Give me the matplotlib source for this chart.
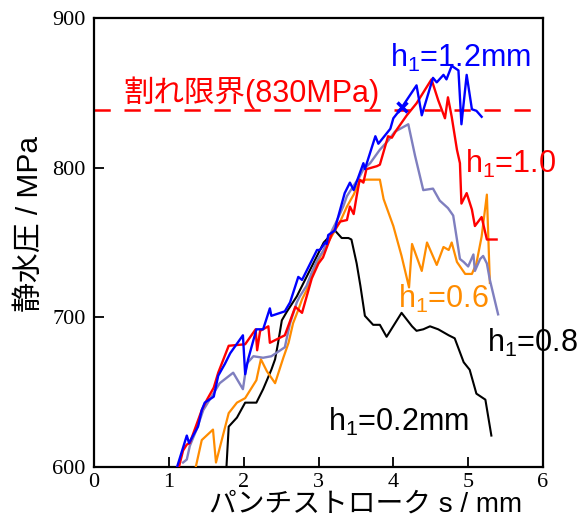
import matplotlib
matplotlib.use("Agg")
import matplotlib.pyplot as plt

# ---- data ----
x_02 = [1.77,1.80,1.91,2.02,2.17,2.26,2.37,2.42,2.46,2.51,2.58,2.71,2.84,2.98,3.07,3.22,3.31,3.40,3.44,3.51,3.56,3.62,3.73,3.82,3.91,4.11,4.25,4.31,4.40,4.49,4.60,4.74,4.82,4.94,5.02,5.11,5.23,5.31]
y_02 = [600,627,633,643,643,652,665,672,683,698,704,714,727,741,750,758,753,753,752,736,721,701,695,695,687,703,694,691,692,694,692,688,686,670,665,649,645,621]

x_12 = [1.11,1.24,1.27,1.39,1.44,1.48,1.60,1.66,1.75,1.82,1.99,2.02,2.06,2.17,2.26,2.35,2.37,2.55,2.62,2.73,2.78,2.89,2.98,3.02,3.09,3.11,3.13,3.22,3.24,3.35,3.42,3.47,3.60,3.62,3.76,3.80,3.96,4.00,4.11,4.31,4.38,4.53,4.58,4.67,4.71,4.78,4.87,4.91,4.98,5.05,5.11,5.18]
y_12 = [600,621,616,627,638,643,647,661,669,676,688,662,672,692,692,706,701,704,710,727,725,736,745,745,750,749,755,758,763,783,790,785,803,799,821,816,826,833,840,855,835,860,857,862,859,868,865,829,862,839,838,834]

x_10 = [1.13,1.19,1.24,1.28,1.44,1.51,1.60,1.66,1.80,2.02,2.16,2.18,2.22,2.33,2.35,2.55,2.69,2.78,2.91,3.00,3.06,3.18,3.29,3.38,3.42,3.47,3.51,3.55,3.60,3.64,3.78,3.82,3.93,3.98,4.04,4.18,4.31,4.51,4.60,4.69,4.73,4.78,4.85,4.89,4.91,4.98,5.05,5.09,5.18,5.25,5.38]
y_10 = [599,611,615,616,638,645,653,663,681,682,692,678,691,694,683,688,707,703,726,736,740,756,764,765,774,769,781,792,790,799,801,802,821,820,825,835,843,859,845,833,847,834,812,803,776,783,772,761,767,752,752]

x_08 = [1.19,1.24,1.28,1.37,1.46,1.57,1.68,1.86,1.99,2.04,2.13,2.26,2.37,2.55,2.58,2.62,2.71,2.75,2.84,2.91,2.98,3.07,3.18,3.24,3.33,3.38,3.47,3.55,3.60,3.69,3.82,3.93,4.02,4.20,4.29,4.40,4.53,4.62,4.73,4.80,4.85,4.89,4.94,5.00,5.07,5.09,5.16,5.20,5.25,5.29,5.40]
y_08 = [603,605,614,625,638,647,656,663,652,669,674,673,674,680,687,696,710,714,721,730,738,745,758,764,774,781,788,794,799,803,812,818,824,829,808,785,786,778,773,768,752,739,737,734,742,731,739,741,736,725,702]

x_06 = [1.36,1.44,1.59,1.63,1.80,1.91,2.02,2.17,2.23,2.31,2.42,2.53,2.60,2.66,2.73,2.78,2.84,2.89,2.98,3.07,3.15,3.22,3.29,3.38,3.47,3.55,3.64,3.82,3.87,4.00,4.11,4.21,4.25,4.38,4.45,4.58,4.67,4.74,4.78,4.85,4.96,5.05,5.11,5.18,5.25,5.29]
y_06 = [600,618,625,603,636,643,646,658,672,664,656,673,683,696,705,712,718,725,736,745,752,758,764,774,782,791,792,792,779,761,741,720,749,731,750,735,747,745,750,737,729,729,736,754,782,723]

limit_value = 838.5
fracture_x = [4.12]
fracture_y = [840.5]

x_ticks = [0, 1, 2, 3, 4, 5, 6]
y_ticks = [600, 700, 800, 900]

# ---- figure ----
fig = plt.figure(figsize=(5.78, 5.21), dpi=100)
ax = fig.add_axes([94/578, 54/521, 449/578, 449/521])

c_blue = "#0000ff"
c_red = "#ff0000"
c_orange = "#ff8c00"
c_slate = "#7f7fbf"

ax.axhline(limit_value, color=c_red, lw=1.8, dashes=(6.5, 5.5), zorder=1)
ax.plot(x_02, y_02, color="black", lw=1.5, zorder=2)
ax.plot(x_06, y_06, color=c_orange, lw=1.6, zorder=3)
ax.plot(x_08, y_08, color=c_slate, lw=1.7, zorder=4)
ax.plot(x_10, y_10, color=c_red, lw=1.7, zorder=5)
ax.plot(x_12, y_12, color=c_blue, lw=1.7, zorder=6)
ax.plot(fracture_x, fracture_y, linestyle="none", marker="x", color=c_blue,
        ms=7, mew=2.5, zorder=7)

ax.set_xlim(0, 6)
ax.set_ylim(600, 900)
ax.set_xticks(x_ticks)
ax.set_yticks(y_ticks)
ax.tick_params(direction="in", length=7, width=1.3)
for lab in ax.get_xticklabels() + ax.get_yticklabels():
    lab.set_fontfamily("Liberation Serif")
    lab.set_fontsize(16)
ax.tick_params(axis="x", pad=4)
ax.tick_params(axis="y", pad=6)
for s in ax.spines.values():
    s.set_linewidth(1.6)

cjk = ["Liberation Sans", "Noto Sans CJK JP", "DejaVu Sans"]
fig.text(366/578, 1 - 505/521, "パンチストローク s / mm", fontsize=20,
         family=cjk, ha="center", va="center")
fig.text(30/578, 1 - 224/521, "静水圧 / MPa", fontsize=21.5, family=cjk,
         ha="center", va="center", rotation=90)

tf = ["Liberation Sans", "DejaVu Sans"]
fs = 22
ax.text(0.39, 844, "割れ限界(830MPa)", color=c_red, fontsize=22, family=cjk,
        ha="left", va="baseline")
ax.text(3.96, 867, r"h$_\mathregular{1}$=1.2mm", color=c_blue, fontsize=fs,
        family=tf, ha="left", va="baseline", zorder=8)
ax.text(4.96, 796.5, r"h$_\mathregular{1}$=1.0", color=c_red, fontsize=fs,
        family=tf, ha="left", va="baseline")
ax.text(4.06, 706, r"h$_\mathregular{1}$=0.6", color=c_orange, fontsize=fs,
        family=tf, ha="left", va="baseline")
ax.text(5.25, 677, r"h$_\mathregular{1}$=0.8", color="black", fontsize=fs,
        family=tf, ha="left", va="baseline", clip_on=False)
ax.text(3.13, 624, r"h$_\mathregular{1}$=0.2mm", color="black", fontsize=fs,
        family=tf, ha="left", va="baseline")

fig.savefig("out.png", dpi=100)
